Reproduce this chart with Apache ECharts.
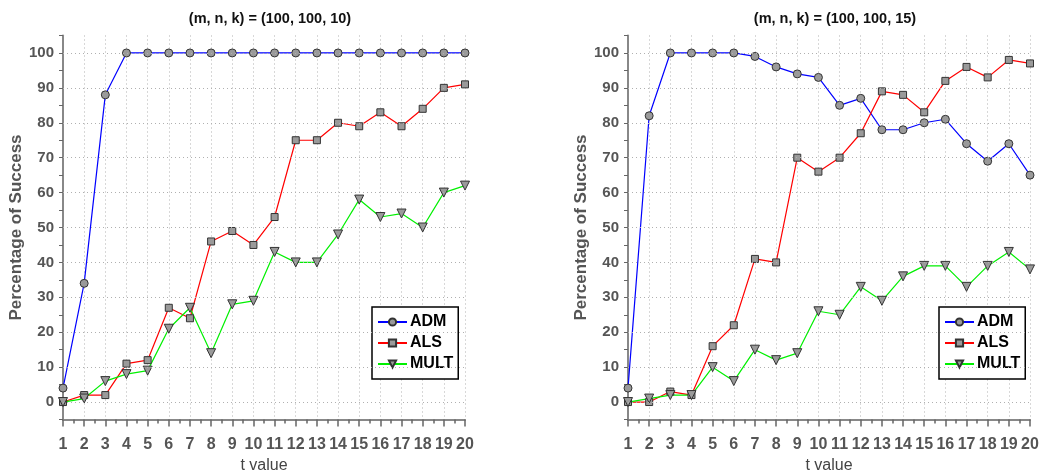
<!DOCTYPE html>
<html>
<head>
<meta charset="utf-8">
<script src="https://cdn.jsdelivr.net/npm/echarts@6/dist/echarts.min.js"></script>
<style>
html,body{margin:0;padding:0;background:#fff;}
#c{width:1040px;height:471px;}
</style>
</head>
<body>
<div id="c"></div>
<script>
const tValues = [1,2,3,4,5,6,7,8,9,10,11,12,13,14,15,16,17,18,19,20];
const seriesNames = ['ADM','ALS','MULT'];
const titles = ['(m, n, k) = (100, 100, 10)', '(m, n, k) = (100, 100, 15)'];
const yGridValues = [0,10,20,30,40,50,60,70,80,90,100];

// k = 10
const admK10  = [4,34,88,100,100,100,100,100,100,100,100,100,100,100,100,100,100,100,100,100];
const alsK10  = [0,2,2,11,12,27,24,46,49,45,53,75,75,80,79,83,79,84,90,91];
const multK10 = [0,1,6,8,9,21,27,14,28,29,43,40,40,48,58,53,54,50,60,62];

// k = 15
const admK15  = [4,82,100,100,100,100,99,96,94,93,85,87,78,78,80,81,74,69,74,65];
const alsK15  = [0,0,3,2,16,22,41,40,70,66,70,77,89,88,83,92,96,93,98,97];
const multK15 = [0,1,2,2,10,6,15,12,14,26,25,33,29,36,39,39,33,39,43,38];

const FONT = '"Liberation Sans", Arial, sans-serif';
const colors = {ADM:'#0000ff', ALS:'#ff0000', MULT:'#00f000'};
const symbols = {ADM:['circle',8,0], ALS:['rect',7,0], MULT:['triangle',9,180]};

function pairs(vals){ return tValues.map((t,i)=>[t, vals[i]]); }

function mkSeries(name, vals, idx){
  const s = symbols[name];
  return {
    name, type:'line', xAxisIndex:idx, yAxisIndex:idx,
    data: pairs(vals),
    symbol: s[0], symbolSize: s[1], symbolRotate: s[2],
    showAllSymbol: true,
    lineStyle:{color:colors[name], width:1.2},
    itemStyle:{color:'#9a9a9a', borderColor:'#333', borderWidth:1},
    emphasis:{disabled:true},
    animation:false, z:3
  };
}
function gridSeries(idx){
  return {
    type:'line', xAxisIndex:idx, yAxisIndex:idx, data:[], silent:true, z:1,
    markLine:{silent:true, symbol:'none', label:{show:false}, animation:false,
      lineStyle:{type:[1,3], color:'#b0b0b0', width:1},
      data: yGridValues.map(v=>({yAxis:v}))}
  };
}

const grids = [
  {left:63, top:35.5, width:402, height:384, outerBoundsMode:'none', containLabel:false},
  {left:628, top:35.5, width:402, height:384, outerBoundsMode:'none', containLabel:false}
];
function mkX(idx){
  return {
    type:'value', gridIndex:idx, min:1, max:20, interval:1,
    name:'t value', nameLocation:'middle', nameGap:34,
    nameTextStyle:{fontFamily:FONT, fontSize:16, color:'#444'},
    axisLine:{show:true, onZero:false, lineStyle:{color:'#888', width:2}},
    axisTick:{show:true, length:7, lineStyle:{color:'#666', width:1.5}},
    minorTick:{show:true, splitNumber:2, length:4, lineStyle:{color:'#666', width:1.5}},
    axisLabel:{fontFamily:FONT, fontSize:16, fontWeight:'bold', color:'#555', margin:17},
    splitLine:{show:true, lineStyle:{type:[1,3], color:'#b0b0b0', width:1}}
  };
}
function mkY(idx){
  return {
    type:'value', gridIndex:idx, min:-5, max:105, interval:5,
    name:'Percentage of Success', nameLocation:'middle', nameGap:38,
    nameTextStyle:{fontFamily:FONT, fontSize:17, fontWeight:'bold', color:'#555'},
    axisLine:{show:true, onZero:false, lineStyle:{color:'#888', width:2}},
    axisTick:{show:true, length:4, lineStyle:{color:'#666', width:1}},
    axisLabel:{fontFamily:FONT, fontSize:15, fontWeight:'bold', color:'#555', margin:9,
      formatter: v => (v % 10 === 0 && v >= 0 && v <= 100) ? String(v) : ''},
    splitLine:{show:false}
  };
}
function mkLegend(left){
  return {
    data: seriesNames, orient:'vertical', left:left, top:307,
    backgroundColor:'#fff', borderColor:'#000', borderWidth:1.5,
    padding:[7,5,7,5], itemGap:5, itemWidth:29, itemHeight:9,
    textStyle:{fontFamily:FONT, fontSize:16, fontWeight:'bold', color:'#000', padding:[0,0,0,-2]},
    selectedMode:false
  };
}

const option = {
  backgroundColor:'#fff',
  animation:false,
  title: [
    {text:titles[0], left:265, top:6, textAlign:'center',
      textStyle:{fontFamily:FONT, fontSize:14.5, fontWeight:'bold', color:'#111'}},
    {text:titles[1], left:830, top:6, textAlign:'center',
      textStyle:{fontFamily:FONT, fontSize:14.5, fontWeight:'bold', color:'#111'}}
  ],
  legend: [mkLegend(372), mkLegend(939)],
  grid: grids,
  xAxis: [mkX(0), mkX(1)],
  yAxis: [mkY(0), mkY(1)],
  series: [
    gridSeries(0), gridSeries(1),
    mkSeries('ADM', admK10, 0), mkSeries('ALS', alsK10, 0), mkSeries('MULT', multK10, 0),
    mkSeries('ADM', admK15, 1), mkSeries('ALS', alsK15, 1), mkSeries('MULT', multK15, 1)
  ]
};
const chart = echarts.init(document.getElementById('c'), null, {renderer:'canvas'});
chart.setOption(option);
</script>
</body>
</html>
